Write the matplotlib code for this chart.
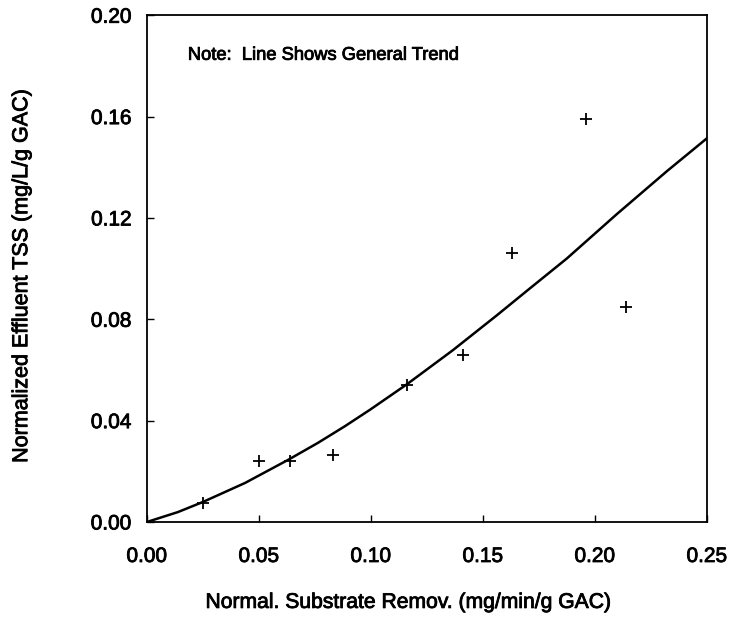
import matplotlib
matplotlib.use("Agg")
import matplotlib.pyplot as plt
import matplotlib.patheffects as pe

# measured points (normalized substrate removal vs normalized effluent TSS)
removal = [0.025, 0.050, 0.064, 0.083, 0.116, 0.141, 0.163, 0.196, 0.214]
tss = [0.0075, 0.024, 0.024, 0.0264, 0.054, 0.066, 0.106, 0.159, 0.085]

# trend line
trend_x = [0.0, 0.0138, 0.025, 0.0438, 0.063, 0.0763, 0.0884, 0.0996, 0.116,
           0.1366, 0.156, 0.171, 0.1875, 0.2098, 0.2321, 0.25]
trend_y = [0.0, 0.0039, 0.0079, 0.0154, 0.0245, 0.0312, 0.0378, 0.0443, 0.0543,
           0.0678, 0.0814, 0.0922, 0.1040, 0.1215, 0.1384, 0.1514]

xticks = [0.00, 0.05, 0.10, 0.15, 0.20, 0.25]
yticks = [0.00, 0.04, 0.08, 0.12, 0.16, 0.20]

plt.rcParams["font.family"] = ["Liberation Sans", "DejaVu Sans"]

# scanned look: text slightly heavier than plain regular
heavy = [pe.withStroke(linewidth=0.6, foreground="black")]

fig = plt.figure(figsize=(7.29, 6.35), dpi=100)
ax = fig.add_axes([0.2016, 0.178, 0.768, 0.798])

ax.plot(trend_x, trend_y, color="black", lw=1.8)
ax.plot(removal, tss, linestyle="none", marker="+", color="black", ms=9, mew=1.3)

ax.set_xlim(0, 0.25)
ax.set_ylim(0, 0.20)
ax.set_xticks(xticks)
ax.set_yticks(yticks)
ax.set_xticklabels([f"{v:.2f}" for v in xticks])
ax.set_yticklabels([f"{v:.2f}" for v in yticks])
ax.tick_params(direction="in", length=5, width=1.0, labelsize=15)
ax.tick_params(axis="x", pad=18)
ax.tick_params(axis="y", pad=11)
for s in ax.spines.values():
    s.set_linewidth(1.3)

ax.set_xlabel("Normal. Substrate Remov. (mg/min/g GAC)", fontsize=15.2)
ax.set_ylabel("Normalized Effluent TSS (mg/L/g GAC)", fontsize=15.5)
ax.xaxis.set_label_coords(0.467, -0.14)
ax.yaxis.set_label_coords(-0.205, 0.485)

note = ax.text(0.073, 0.921, "Note:  Line Shows General Trend", transform=ax.transAxes,
               fontsize=13.2, va="center", ha="left")

for t in ax.get_xticklabels() + ax.get_yticklabels() + [ax.xaxis.label, ax.yaxis.label, note]:
    t.set_path_effects(heavy)

fig.savefig("out.png", dpi=100)
